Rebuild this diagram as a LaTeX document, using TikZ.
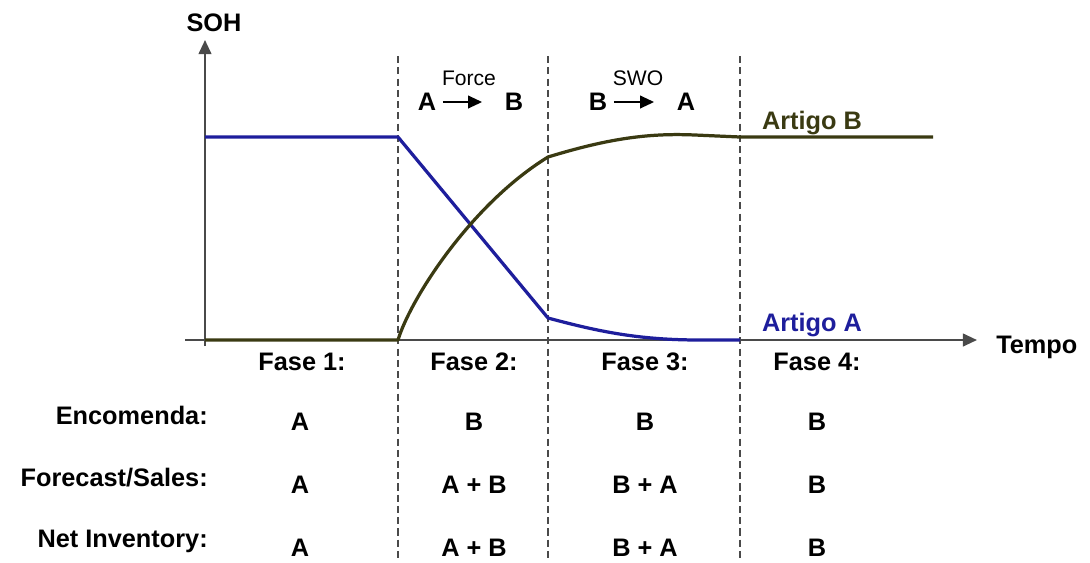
\documentclass[tikz,border=0pt]{standalone}
\usepackage{fontspec}
\setmainfont{Liberation Sans}
\usepackage{tikz}
\usetikzlibrary{arrows.meta,positioning}
\definecolor{LineBlue}{HTML}{1E1E9C}
\definecolor{LineOlive}{HTML}{3A3A12}
\definecolor{AxisGray}{HTML}{4A4A4A}
\tikzset{
  TX/.style={inner sep=0pt,font=\fontsize{18}{20}\selectfont\bfseries},
  SM/.style={inner sep=0pt,font=\fontsize{15}{17}\selectfont},
  RL/.style={TX,anchor=east},
  axis/.style={AxisGray,line width=1.5pt,-{Triangle[length=10pt,width=9pt]}},
  phase/.style={AxisGray,line width=1.1pt,dash pattern=on 5pt off 3pt},
  curveA/.style={LineBlue,line width=2.3pt,line join=round},
  curveB/.style={LineOlive,line width=2.3pt,line join=round},
  swap/.style={black,line width=1.4pt,-{Triangle[length=10pt,width=9pt]}}
}
\begin{document}
\begin{tikzpicture}[x=0.025cm,y=-0.025cm]
  \useasboundingbox (0,0) rectangle (1090,562);
  % phase borders
  \foreach \px/\nm in {398/d1,548/d2,740/d3}{
    \coordinate (\nm t) at (\px,56);
    \coordinate (\nm b) at (\px,562);
    \draw[phase] (\nm t)--(\nm b);
  }
  % axes
  \coordinate (o) at (205,340);
  \coordinate (xs) at (185,340);
  \coordinate (xe) at (977,340);
  \coordinate (ys) at (205,346);
  \coordinate (ye) at (205,40);
  \draw[axis] (xs)--(xe);
  \draw[axis] (ys)--(ye);
  \node[TX] (soh) at (214,23) {SOH};
  \node[TX,anchor=west] (tempo) at (996,347) {Tempo};

  % curves
  \coordinate (a0) at (205,137);
  \coordinate (a1) at (398,137);
  \coordinate (a2) at (548,318);
  \coordinate (a3) at (700,340);
  \coordinate (a4) at (740,340);
  \draw[curveA] (a0)--(a1)--(a2) .. controls (600,332) and (640,340) .. (a3)--(a4);
  \coordinate (b0) at (205,340);
  \coordinate (b1) at (398,340);
  \coordinate (b2) at (548,157);
  \coordinate (b3) at (695,135);
  \coordinate (b4) at (740,137);
  \coordinate (b5) at (933,137);
  \draw[curveB] (b0)--(b1) .. controls (410,300) and (470,205) .. (b2)
    .. controls (610,138) and (650,133) .. (b3)--(b4)--(b5);
  \node[TX,text=LineOlive] (artB) at (812,123) {Artigo B};
  \node[TX,text=LineBlue] (artA) at (812,325) {Artigo A};

  % transitions
  \node[TX] (fA) at (427,102) {A};
  \node[TX] (fB) at (514,102) {B};
  \draw[swap,shorten <=4.5pt,shorten >=16pt] (fA.east)--(fB.west);
  \node[SM] (force) at (469,78) {Force};
  \node[TX] (sB) at (598,102) {B};
  \node[TX] (sA) at (686,102) {A};
  \draw[swap,shorten <=4.5pt,shorten >=16pt] (sB.east)--(sA.west);
  \node[SM] (swo) at (638,78) {SWO};

  % phases
  \foreach \px/\k in {302/1,474/2,645/3,817/4}
    \node[TX] (f\k) at (\px,362) {Fase \k:};

  % table
  \node[RL] (enc) at (208,415) {Encomenda:};
  \node[RL] (fcs) at (208,478) {Forecast/Sales:};
  \node[RL] (inv) at (208,541) {Net Inventory:};
  \foreach \px/\v/\w/\u [count=\i] in {300/A/A/A,474/B/A + B/A + B,645/B/B + A/B + A,817/B/B/B}{
    \node[TX] (e\i) at (\px,422) {\v};
    \node[TX] (s\i) at (\px,485) {\w};
    \node[TX] (n\i) at (\px,548) {\u};
  }
\end{tikzpicture}
\end{document}
